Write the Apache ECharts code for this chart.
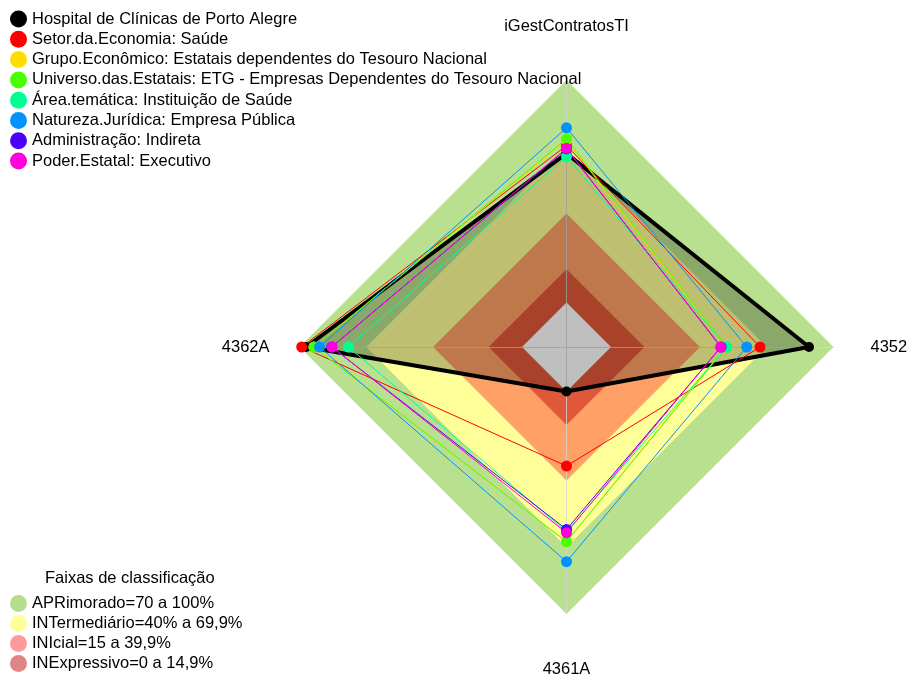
<!DOCTYPE html>
<html>
<head>
<meta charset="utf-8">
<script src="https://cdn.jsdelivr.net/npm/echarts@6/dist/echarts.min.js"></script>
<style>
	html, body { margin: 0; padding: 0; background: #ffffff; }
	#chart { width: 909px; height: 680px; }
</style>
</head>
<body>
<div id="chart"></div>
<script>
"use strict";

// indicators, in the order echarts lays them out (top, then counter-clockwise)
var indicatorNames = ['iGestContratosTI', '4362A', '4361A', '4352'];

var seriesNames = [
	'Hospital de Clínicas de Porto Alegre',
	'Setor.da.Economia: Saúde',
	'Grupo.Econômico: Estatais dependentes do Tesouro Nacional',
	'Universo.das.Estatais: ETG - Empresas Dependentes do Tesouro Nacional',
	'Área.temática: Instituição de Saúde',
	'Natureza.Jurídica: Empresa Pública',
	'Administração: Indireta',
	'Poder.Estatal: Executivo'
];
var seriesColors = ['#000000', '#FF0000', '#FFDB00', '#49FF00', '#00FF92', '#0092FF', '#4900FF', '#FF00DB'];

// values per series, same order as indicatorNames
var hospitalValues   = [67, 97, 0, 89];
var setorValues      = [70.5, 99, 33.5, 67];
var grupoValues      = [73, 93.5, 67.5, 51.5];
var universoValues   = [73.5, 93.5, 67.5, 52];
var areaValues       = [65.5, 78, 63, 52];
var naturezaValues   = [78.5, 91, 76.5, 61];
var administracaoValues = [69, 85.5, 62, 49.5];
var poderValues      = [69.3, 85.4, 63.5, 49.3];

var allValues = [hospitalValues, setorValues, grupoValues, universoValues, areaValues, naturezaValues, administracaoValues, poderValues];

// classification bands (upper limit of each band)
var bandNames = ['APRimorado=70 a 100%', 'INTermediário=40% a 69,9%', 'INIcial=15 a 39,9%', 'INExpressivo=0 a 14,9%'];
var bandLimits = [100, 70, 40, 15];
var bandColors = ['#B8E08E', '#FFFF99', '#FFA066', '#E0583A'];
var bandLegendColors = ['#B5DD8B', '#FFFF99', '#FF9A9A', '#E08585'];

var AXIS_MIN = -20;
var AXIS_MAX = 100;
var FONT_SIZE = 16.5;

var chart = echarts.init(document.getElementById('chart'));

var indicators = [];
for (var i = 0; i < indicatorNames.length; i++) {
	indicators.push({ name: indicatorNames[i], min: AXIS_MIN, max: AXIS_MAX });
}

function fill(v) {
	var arr = [];
	for (var i = 0; i < indicatorNames.length; i++) arr.push(v);
	return arr;
}

var bandData = [];
for (var b = 0; b < bandNames.length; b++) {
	bandData.push({
		name: bandNames[b],
		value: fill(bandLimits[b]),
		symbol: 'none',
		lineStyle: { width: 0, opacity: 0 },
		areaStyle: { color: bandColors[b], opacity: 1 }
	});
}
// below zero stays white
bandData.push({
	name: 'zero',
	value: fill(0),
	symbol: 'none',
	lineStyle: { width: 0, opacity: 0 },
	areaStyle: { color: '#ffffff', opacity: 1 }
});

var lineData = [];
for (var s = 0; s < seriesNames.length; s++) {
	var isMain = (s === 0);
	lineData.push({
		name: seriesNames[s],
		value: allValues[s],
		symbol: 'circle',
		symbolSize: isMain ? 10 : 11,
		itemStyle: { color: seriesColors[s] },
		lineStyle: { color: seriesColors[s], width: isMain ? 4 : 1 },
		areaStyle: isMain ? { color: '#000000', opacity: 0.25 } : { opacity: 0 }
	});
}

var nameKeys = { 'iGestContratosTI': 't', '4362A': 'l', '4361A': 'b', '4352': 'r' };

var legendBands = [];
for (var k = 0; k < bandNames.length; k++) {
	legendBands.push({ name: bandNames[k], itemStyle: { color: bandLegendColors[k] } });
}

var legendSeries = [];
for (var m = 0; m < seriesNames.length; m++) {
	legendSeries.push({ name: seriesNames[m], itemStyle: { color: seriesColors[m] } });
}

var legendText = { fontSize: FONT_SIZE, lineHeight: 17, color: '#000000' };

chart.setOption({
	animation: false,
	textStyle: { fontFamily: 'Liberation Sans, Arial, sans-serif' },
	title: {
		text: 'Faixas de classificação',
		left: 45,
		top: 570,
		padding: 0,
		textStyle: { fontSize: FONT_SIZE, fontWeight: 'normal', color: '#000000' }
	},
	legend: [{
		orient: 'vertical',
		left: 10,
		top: 10.5,
		padding: 0,
		icon: 'circle',
		itemWidth: 17,
		itemHeight: 17,
		itemGap: 3.3,
		selectedMode: false,
		textStyle: legendText,
		data: legendSeries
	}, {
		orient: 'vertical',
		left: 10,
		top: 595,
		padding: 0,
		icon: 'circle',
		itemWidth: 17,
		itemHeight: 17,
		itemGap: 3,
		selectedMode: false,
		textStyle: legendText,
		data: legendBands
	}],
	radar: {
		center: [566.5, 347],
		radius: 267,
		startAngle: 90,
		shape: 'polygon',
		splitNumber: 6,
		z: 2,
		nameGap: 28,
		axisName: {
			color: '#000000',
			fontSize: FONT_SIZE,
			formatter: function(name) {
				return '{' + nameKeys[name] + '|' + name + '}';
			},
			rich: {
				t: { fontSize: FONT_SIZE, color: '#000000', padding: [0, 0, 17, 0] },
				l: { fontSize: FONT_SIZE, color: '#000000', padding: [0, 2, 0, 0] },
				b: { fontSize: FONT_SIZE, color: '#000000', padding: [19, 0, 0, 0] },
				r: { fontSize: FONT_SIZE, color: '#000000', padding: [0, 0, 0, 9] }
			}
		},
		axisLine: { show: true, lineStyle: { color: '#d4d4d4', width: 1, opacity: 0.8 } },
		axisTick: { show: false },
		axisLabel: { show: false },
		splitLine: { show: false },
		splitArea: { show: false },
		indicator: indicators
	},
	series: [{
		name: 'faixas',
		type: 'radar',
		z: 1,
		silent: true,
		data: bandData
	}, {
		name: 'indicadores',
		type: 'radar',
		z: 3,
		data: lineData
	}]
});
</script>
</body>
</html>
